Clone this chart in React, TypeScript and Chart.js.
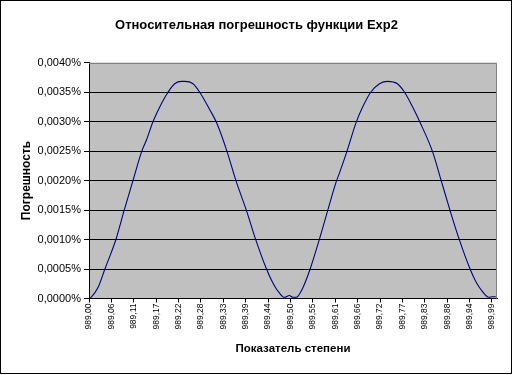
import React, { useEffect, useRef } from "react";
import { Chart, registerables } from "chart.js";

Chart.register(...registerables);

const chartTitle = "Относительная погрешность функции Exp2";
const yAxisTitle = "Погрешность";
const xAxisTitle = "Показатель степени";

// exponent (x) values
const exponents = [
  989.0, 989.005, 989.023, 989.039, 989.054, 989.066, 989.086, 989.107, 989.129, 989.141,
  989.157, 989.178, 989.194, 989.21, 989.227, 989.235, 989.255, 989.271, 989.296, 989.312,
  989.337, 989.361, 989.386, 989.408, 989.435, 989.451, 989.467, 989.479, 989.491, 989.5,
  989.508, 989.524, 989.542, 989.565, 989.585, 989.606, 989.614, 989.632, 989.655, 989.671,
  989.691, 989.712, 989.732, 989.745, 989.756, 989.773, 989.793, 989.811, 989.842, 989.864,
  989.885, 989.907, 989.934, 989.948, 989.964, 989.98, 989.989, 989.997,
];

// relative error, in percent
const errorPercent = [
  0.0, 0.00002, 0.0002, 0.0005, 0.00077, 0.001, 0.00149, 0.00198, 0.00249, 0.00269,
  0.003, 0.00331, 0.0035, 0.00364, 0.00368, 0.00368, 0.00364, 0.0035, 0.0032, 0.00299,
  0.00252, 0.00198, 0.00149, 0.00101, 0.0005, 0.00026, 0.00009, 0.00002, 0.00005, 0.00002,
  0.00002, 0.00018, 0.0005, 0.00101, 0.00149, 0.00198, 0.00213, 0.00249, 0.00299, 0.00325,
  0.0035, 0.00364, 0.00368, 0.00367, 0.00364, 0.0035, 0.00325, 0.00299, 0.00249, 0.00198,
  0.00149, 0.00101, 0.0005, 0.00029, 0.00012, 0.00002, 0.00003, 0.00003,
];

const xTickLabels = [
  "989,00", "989,06", "989,11", "989,17", "989,22", "989,28", "989,33", "989,39", "989,44",
  "989,50", "989,55", "989,61", "989,66", "989,72", "989,77", "989,83", "989,88", "989,94",
  "989,99",
];

const X_MIN = 989.0;
const X_MAX = 990.0;
const X_TICK_STEP = 0.05487;
const Y_MAX = 0.004;
const Y_STEP = 0.0005;

const FONT = '"Liberation Sans", Arial, sans-serif';

const plotAreaPlugin = {
  id: "plotArea",
  beforeDraw(chart: any) {
    const { ctx, chartArea } = chart;
    ctx.save();
    ctx.fillStyle = "#C0C0C0";
    ctx.fillRect(chartArea.left, chartArea.top, chartArea.right - chartArea.left, chartArea.bottom - chartArea.top);
    ctx.restore();
  },
  beforeDatasetsDraw(chart: any) {
    const { ctx, chartArea } = chart;
    ctx.save();
    ctx.strokeStyle = "#808080";
    ctx.lineWidth = 1;
    const t = Math.round(chartArea.top) + 0.5;
    const r = Math.round(chartArea.right) - 0.5;
    ctx.beginPath();
    ctx.moveTo(chartArea.left, t);
    ctx.lineTo(r, t);
    ctx.lineTo(r, chartArea.bottom);
    ctx.stroke();
    ctx.restore();
  },
};

export default function App() {
  const canvasRef = useRef<HTMLCanvasElement | null>(null);

  useEffect(() => {
    document.body.style.margin = "0";
    Chart.defaults.font.family = FONT;
    Chart.defaults.color = "#000";
    const points = exponents.map((x, i) => ({ x, y: errorPercent[i] }));
    const chart = new Chart(canvasRef.current as HTMLCanvasElement, {
      type: "line",
      data: {
        datasets: [
          {
            data: points,
            borderColor: "#000080",
            borderWidth: 1.1,
            pointRadius: 0,
            cubicInterpolationMode: "monotone",
            fill: false,
          },
        ],
      },
      plugins: [plotAreaPlugin],
      options: {
        animation: false,
        responsive: false,
        events: [],
        layout: { padding: { left: 0, right: 0, top: 0, bottom: 0 } },
        plugins: {
          legend: { display: false },
          tooltip: { enabled: false },
          title: {
            display: true,
            text: chartTitle,
            color: "#000",
            font: { family: FONT, size: 13, weight: "bold" },
            padding: { top: 17.5, bottom: 29.4 },
          },
        },
        scales: {
          x: {
            type: "linear",
            min: X_MIN,
            max: X_MAX,
            afterBuildTicks: (scale: any) => {
              scale.ticks = xTickLabels.map((_, i) => ({ value: X_MIN + i * X_TICK_STEP }));
            },
            afterFit: (scale: any) => {
              scale.height = 375 - 298.5;
            },
            ticks: {
              autoSkip: false,
              maxRotation: 90,
              minRotation: 90,
              padding: 1,
              color: "#000",
              font: { family: FONT, size: 8.5 },
              callback: (_v: any, i: number) => xTickLabels[i],
            },
            grid: {
              display: true,
              drawOnChartArea: false,
              drawTicks: true,
              tickLength: 4,
              color: "#000",
            },
            border: { display: true, color: "#000", width: 1 },
            title: {
              display: true,
              text: xAxisTitle,
              color: "#000",
              font: { family: FONT, size: 11.5, weight: "bold" },
              padding: { top: 0, bottom: 19 },
            },
          },
          y: {
            type: "linear",
            min: 0,
            max: Y_MAX,
            afterFit: (scale: any) => {
              scale.width = 89;
            },
            ticks: {
              stepSize: Y_STEP,
              padding: 3,
              color: "#000",
              font: { family: FONT, size: 11 },
              callback: (v: any) => Number(v).toFixed(4).replace(".", ",") + "%",
            },
            grid: {
              display: true,
              drawTicks: true,
              tickLength: 5,
              color: (ctx: any) => (ctx.tick && ctx.tick.value > Y_MAX - 1e-9 ? "rgba(0,0,0,0)" : "#000"),
              tickColor: "#000",
            },
            border: { display: true, color: "#000", width: 1 },
            title: {
              display: true,
              text: yAxisTitle,
              color: "#000",
              font: { family: FONT, size: 12, weight: "bold" },
              padding: { top: 19.5, bottom: 0 },
            },
          },
          spacer: {
            type: "linear",
            position: "right",
            display: true,
            afterFit: (scale: any) => {
              scale.width = 16;
            },
            ticks: { display: false },
            grid: { display: false, drawTicks: false, drawOnChartArea: false },
            border: { display: false },
            title: { display: false },
          },
        },
      } as any,
    });
    return () => chart.destroy();
  }, []);

  return (
    <div style={{ position: "absolute", left: 0, top: 0, width: 513, height: 375, background: "#fff" }}>
      <canvas ref={canvasRef} width={513} height={375} style={{ display: "block" }} />
      <div
        style={{
          position: "absolute",
          left: 0,
          top: 0,
          width: 512,
          height: 374,
          boxSizing: "border-box",
          border: "1px solid #000",
          pointerEvents: "none",
        }}
      />
    </div>
  );
}
